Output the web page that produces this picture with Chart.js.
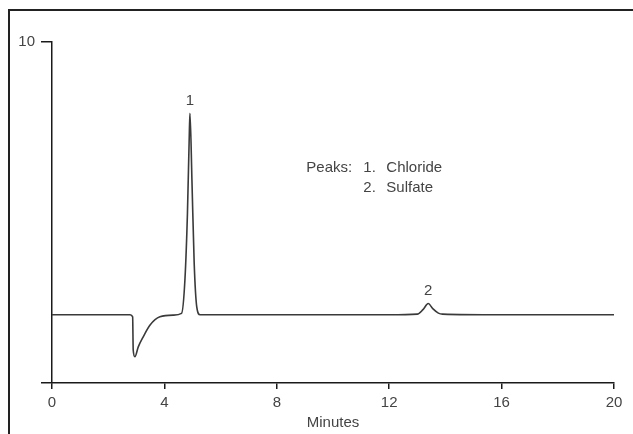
<!DOCTYPE html>
<html>
<head>
<meta charset="utf-8">
<script src="https://cdn.jsdelivr.net/npm/chart.js@4"></script>
<style>
  html, body { margin: 0; padding: 0; background: #fff; }
  #frame { position: absolute; left: 8px; top: 9px; width: 625px; height: 425px;
           border-top: 2px solid #222; border-left: 2px solid #222; }
  #wrap { position: absolute; left: 0; top: 0; width: 633px; height: 434px; }
</style>
</head>
<body>
<div id="frame"></div>
<div id="wrap"><canvas id="chromChart" width="633" height="434"></canvas></div>
<script>
// retention time (minutes) and detector response
const times = [0, 2.78, 2.87, 2.89, 2.95, 3.07, 3.25, 3.49, 3.84, 4.32, 4.61, 4.73, 4.82, 4.89, 4.91, 4.98, 5.06, 5.15, 5.27, 5.6, 8, 12, 13.0, 13.2, 13.39, 13.55, 13.75, 13.9, 16, 20];
const signal = [2.0, 2.0, 1.94, 0.97, 0.77, 1.06, 1.36, 1.70, 1.94, 1.99, 2.04, 3.02, 4.97, 7.42, 7.91, 5.95, 3.51, 2.24, 2.0, 2.0, 2.0, 2.0, 2.02, 2.15, 2.33, 2.18, 2.05, 2.02, 2.0, 2.0];

const xTicks = [0, 4, 8, 12, 16, 20];
const yTicks = [0, 10];

const peakNumbers = ['1', '2'];
const peakTimes = [4.91, 13.39];
const peakHeights = [7.91, 2.33];
const peakNames = ['Chloride', 'Sulfate'];

const textColor = '#444';
const axisColor = '#1a1a1a';
const fontFamily = '"Liberation Sans", Arial, sans-serif';

const annotations = {
    id: 'annotations',
    afterDatasetsDraw(chart) {
        const { ctx, scales: { x, y } } = chart;
        ctx.save();
        ctx.fillStyle = textColor;
        ctx.font = '15px ' + fontFamily;
        ctx.textAlign = 'center';
        ctx.textBaseline = 'bottom';
        peakNumbers.forEach((n, i) => {
            ctx.fillText(n, x.getPixelForValue(peakTimes[i]), y.getPixelForValue(peakHeights[i]) - 5);
        });
        // peak list
        ctx.textAlign = 'left';
        ctx.textBaseline = 'alphabetic';
        const left = x.getPixelForValue(9.05);
        const top = y.getPixelForValue(6.2);
        ctx.fillText('Peaks:', left, top);
        peakNames.forEach((name, i) => {
            const ly = top + i * 20;
            ctx.fillText((i + 1) + '.', left + 57, ly);
            ctx.fillText(name, left + 80, ly);
        });
        ctx.restore();
    }
};

new Chart(document.getElementById('chromChart').getContext('2d'), {
    type: 'line',
    data: {
        datasets: [{
            data: times.map((t, i) => ({ x: t, y: signal[i] })),
            borderColor: '#3a3a3a',
            borderWidth: 1.6,
            pointRadius: 0,
            cubicInterpolationMode: 'monotone',
            fill: false
        }]
    },
    options: {
        responsive: false,
        animation: false,
        layout: { padding: { top: 42, right: 19, left: 0, bottom: 0 } },
        plugins: { legend: { display: false }, tooltip: { enabled: false } },
        scales: {
            x: {
                type: 'linear',
                min: 0,
                max: 20,
                afterBuildTicks: s => { s.ticks = xTicks.map(v => ({ value: v })); },
                afterFit: s => { s.height = 51; },
                grid: { drawOnChartArea: false, tickLength: 6, color: axisColor, lineWidth: 1.5 },
                border: { color: axisColor, width: 1.5 },
                ticks: { color: textColor, font: { family: fontFamily, size: 15 }, padding: 5, maxRotation: 0 },
                title: { display: true, text: 'Minutes', color: textColor, font: { family: fontFamily, size: 15 }, padding: { top: 0, bottom: 2 } }
            },
            y: {
                type: 'linear',
                min: 0,
                max: 10,
                afterBuildTicks: s => { s.ticks = yTicks.map(v => ({ value: v })); },
                afterFit: s => { s.width = 52; },
                grid: { drawOnChartArea: false, tickLength: 11, color: axisColor, lineWidth: 1.5 },
                border: { color: axisColor, width: 1.5 },
                ticks: { color: textColor, font: { family: fontFamily, size: 15 }, padding: 6,
                         callback: v => (v === 10 ? '10' : '') }
            }
        }
    },
    plugins: [annotations]
});
</script>
</body>
</html>
